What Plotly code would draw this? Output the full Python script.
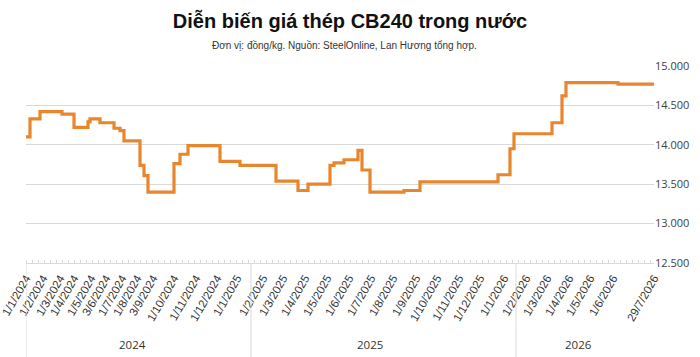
import plotly.graph_objects as go

# Category-row index of each price change (chart uses an evenly spaced category axis)
change_row = [0, 2, 7, 18, 24, 31, 32, 37, 44, 47, 49, 57, 59, 61, 74, 77, 81, 97,
              107, 125, 136, 141, 152, 154, 159, 166, 168, 172, 189, 197, 236, 242,
              244, 263, 268, 270, 296, 314]
price = [14100, 14330, 14420, 14390, 14220, 14290, 14330, 14280, 14210, 14180, 14050,
         13740, 13610, 13400, 13760, 13880, 13990, 13790, 13740, 13540, 13420, 13500,
         13740, 13770, 13810, 13930, 13680, 13400, 13420, 13530, 13620, 13950, 14140,
         14280, 14620, 14790, 14770, 14770]

tick_row = [0, 8.5, 17, 24, 32.5, 40, 48, 55.5, 63.5, 74, 85, 95.5, 105.5,
            118.5, 128.5, 139.5, 150.5, 161.5, 172.5, 183.5, 195, 205.5, 216.5, 227,
            239, 250, 260.5, 271.5, 282, 293.5, 314]
tick_text = ["1/1/2024", "1/2/2024", "1/3/2024", "1/4/2024", "1/5/2024", "3/6/2024",
             "1/7/2024", "1/8/2024", "3/9/2024", "1/10/2024", "1/11/2024", "1/12/2024",
             "1/1/2025", "1/2/2025", "1/3/2025", "1/4/2025", "1/5/2025", "1/6/2025",
             "1/7/2025", "1/8/2025", "1/9/2025", "1/10/2025", "1/11/2025", "1/12/2025",
             "1/1/2026", "1/2/2026", "1/3/2026", "1/4/2026", "1/5/2026", "1/6/2026",
             "29/7/2026"]

year_labels = ["2024", "2025", "2026"]
year_label_row = [53, 172, 276]
year_bound_row = [0, 112.5, 245]

y_ticks = [12500, 13000, 13500, 14000, 14500, 15000]

fig = go.Figure()
fig.add_trace(go.Scatter(
    x=change_row, y=price, mode="lines", line_shape="hv",
    line=dict(color="#E8862E", width=3.2), hoverinfo="skip", showlegend=False,
))

font_main = "Liberation Sans"
fig.update_layout(
    width=700, height=357,
    margin=dict(l=26, r=46, t=66, b=94, autoexpand=False),
    paper_bgcolor="white", plot_bgcolor="white",
    separators=",.",
    title=dict(text="<b>Diễn biến giá thép CB240 trong nước</b>",
               x=0.5, xanchor="center", y=1 - 21 / 357, yanchor="middle",
               font=dict(family=font_main, size=20, color="#111111")),
    annotations=[dict(text="Đơn vị: đồng/kg. Nguồn: SteelOnline, Lan Hương tổng hợp.",
                      xref="paper", yref="paper", x=(344 - 26) / 628,
                      y=1 + (66 - 46) / 197, xanchor="center", yanchor="middle",
                      showarrow=False,
                      font=dict(family=font_main, size=10, color="#333333"))]
    + [dict(text=t, xref="x", yref="paper", x=r, y=-(344 - 263) / 197,
            xanchor="center", yanchor="middle", showarrow=False,
            font=dict(family="Open Sans", size=11.5, color="#333333"))
       for t, r in zip(year_labels, year_label_row)],
    shapes=[dict(type="line", xref="x", yref="paper", x0=r, x1=r, y0=0, y1=-0.5,
                 line=dict(color="#d9d9d9", width=1)) for r in year_bound_row],
)

fig.update_xaxes(
    range=[0, 314], tickmode="array", tickvals=tick_row, ticktext=tick_text,
    tickangle=-60, ticks="", showgrid=False, zeroline=False,
    showline=True, linecolor="#d9d9d9", linewidth=1, automargin=False,
    tickfont=dict(family="Liberation Sans", size=11.5, color="#333333"),
    ticklabelstandoff=3, ticklabeloverflow="allow",
    minor=dict(ticks="inside", ticklen=3, dtick=3, tick0=0, tickcolor="#d9d9d9",
               showgrid=False),
)
fig.update_yaxes(
    range=[12500, 15000], tickmode="array", tickvals=y_ticks, tickformat=",d",
    side="right", showgrid=True, gridcolor="#d9d9d9", gridwidth=1,
    zeroline=False, showline=False, ticks="", automargin=False,
    tickfont=dict(family="Open Sans", size=11, color="#404040"),
)

fig.write_html("out.html")
